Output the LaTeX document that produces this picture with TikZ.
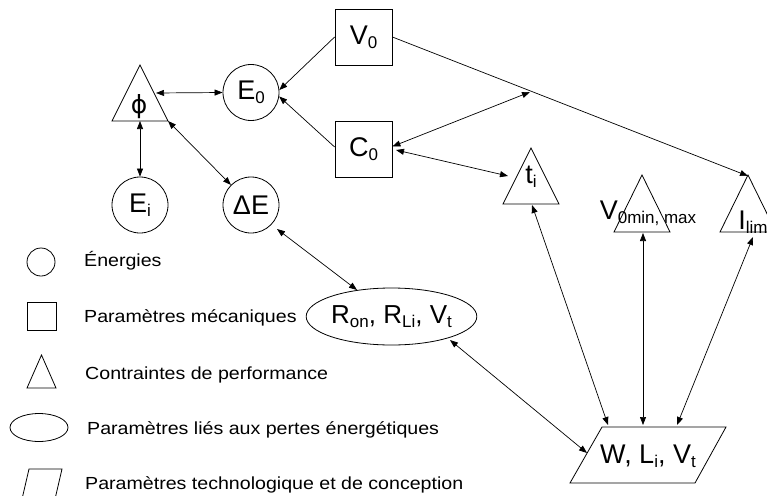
\documentclass[tikz,border=0pt]{standalone}
\usepackage{fontspec}
\setmainfont{Liberation Sans}
\newfontfamily\legendfont[FakeStretch=1.12]{Liberation Sans}
\newfontfamily\symfont{DejaVu Sans}
\usetikzlibrary{arrows.meta,shapes.geometric}
\newcommand\mysub[1]{\raisebox{-4pt}{\fontsize{17}{17}\selectfont #1}}
\tikzset{
  lab/.style={font=\fontsize{27}{30}\selectfont, inner sep=0pt},
  shp/.style={draw, line width=0.8pt},
  circ/.style={shp, circle, minimum size=56pt, lab},
  box/.style={shp, rectangle, minimum width=57pt, minimum height=56pt, lab},
  ell/.style={shp, ellipse, minimum width=133pt, minimum height=57pt, lab},
  conn/.style={draw, line width=0.7pt, arrows={-Triangle[length=8pt,width=6pt]}},
  biconn/.style={draw, line width=0.7pt, arrows={Triangle[length=8pt,width=6pt]-Triangle[length=8pt,width=6pt]}},
  legtext/.style={font=\legendfont\fontsize{17.5}{20}\selectfont, anchor=base west, inner sep=0pt}
}
\begin{document}
\begin{tikzpicture}[x=1pt,y=-1pt]
\useasboundingbox (0,0) rectangle (767,495);

% boxes and circles
\node[box]  (V0) at (363.5,37)  {V\mysub{0}};
\node[box]  (C0) at (363.5,149) {C\mysub{0}};
\node[circ] (E0) at (251,92.5)  {E\mysub{0}};
\node[circ] (Ei) at (140,205)   {E\mysub{i}};
\node[circ] (dE) at (251,205)   {ΔE};
\node[ell]  (ell) at (391.5,316.5) {\fontsize{26}{30}\selectfont R\mysub{on}, R\mysub{Li}, V\mysub{t}};

% triangles
\draw[shp] (140,65) -- (168,121) -- (112,121) -- cycle;
\node[lab, anchor=base] (phi) at (139,113) {\symfont\fontsize{25}{28}\selectfont ϕ};
\draw[shp] (531,148) -- (559,204) -- (503,204) -- cycle;
\node[lab, anchor=base] (ti) at (531,183) {t\mysub{i}};
\draw[shp] (642,175) -- (670,232) -- (614,232) -- cycle;
\node[lab, anchor=base] (vmm) at (648,219) {V\mysub{0min, max}};
\draw[shp] (748,175) -- (776,232) -- (720,232) -- cycle;
\node[lab, anchor=base] (ilim) at (753,229) {I\mysub{lim}};

% parallelogram
\draw[shp] (602,427) -- (726,427) -- (695,483) -- (570,483) -- cycle;
\node[lab, anchor=base] (W) at (648,463) {W, L\mysub{i}, V\mysub{t}};

% connector end points
\coordinate (phiR) at (156,93);
\coordinate (phiB) at (140,121);
\coordinate (phiC) at (168,121);
\coordinate (dEp) at (277,229);
\coordinate (ellA) at (357,290);
\coordinate (ellB) at (450,340);
\coordinate (Wl) at (587,453);
\coordinate (mid) at (530,92);
\coordinate (C0b) at (396,150);
\coordinate (tiL) at (508,176);
\coordinate (tiB) at (532,205);
\coordinate (vmmB) at (643,233);
\coordinate (ilimT) at (748,176);
\coordinate (ilimB) at (753,237);
\coordinate (Wt1) at (608,425);
\coordinate (Wt2) at (643,425);
\coordinate (Wt3) at (677,425);

% connectors
\draw[conn] (V0.west) -- (E0.5);
\draw[conn] (C0.176) -- (E0.-8);
\draw[biconn] (phiR) -- (E0.west);
\draw[biconn] (phiB) -- (Ei.north);
\draw[biconn] (phiC) -- (dE.135);
\draw[biconn] (dEp) -- (ellA);
\draw[biconn] (ellB) -- (Wl);
\draw[conn] (V0.east) -- (ilimT);
\draw[biconn] (C0.5) -- (mid);
\draw[biconn] (C0b) -- (tiL);
\draw[biconn] (tiB) -- (Wt1);
\draw[biconn] (vmmB) -- (Wt2);
\draw[biconn] (ilimB) -- (Wt3);

% legend
\draw[shp] (41,262) circle (14);
\node[legtext] (l1) at (84,266) {Énergies};
\draw[shp] (27,302) rectangle (56,330);
\node[legtext] (l2) at (84,322) {Paramètres mécaniques};
\draw[shp] (41.5,355) -- (56,388) -- (27,388) -- cycle;
\node[legtext] (l3) at (85,379) {Contraintes de performance};
\draw[shp] (39,427.5) ellipse (29 and 14);
\node[legtext] (l4) at (87,434) {Paramètres liés aux pertes énergétiques};
\draw[shp] (29,469) -- (62,469) -- (55.5,497) -- (22.5,497) -- cycle;
\node[legtext] (l5) at (85,489) {Paramètres technologique et de conception};
\end{tikzpicture}
\end{document}
